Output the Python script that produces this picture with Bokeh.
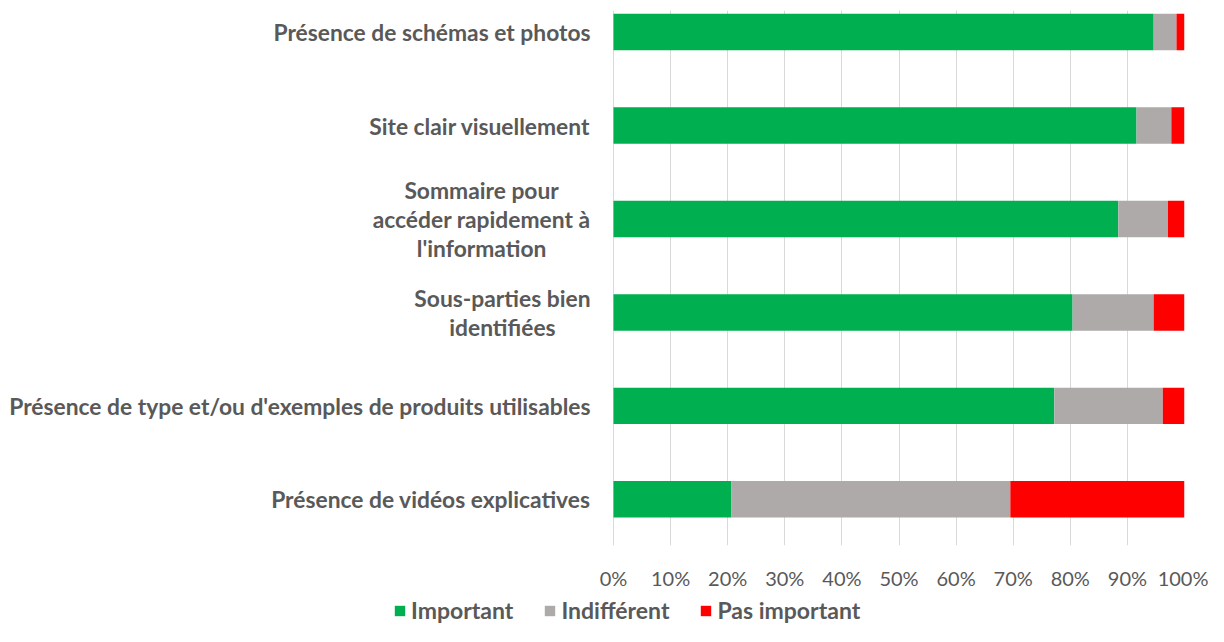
from bokeh.plotting import figure
from bokeh.layouts import column
from bokeh.models import ColumnDataSource, Range1d, FixedTicker, PrintfTickFormatter, Legend, LegendItem
from bokeh.core.properties import value
from bokeh.embed import file_html
from bokeh.resources import INLINE

categories = [
    "Présence de schémas et photos",
    "Site clair visuellement",
    "Sommaire pour\naccéder rapidement à\nl'information",
    "Sous-parties bien\nidentifiées",
    "Présence de type et/ou d'exemples de produits utilisables",
    "Présence de vidéos explicatives",
]
important = [94.6, 91.6, 88.4, 80.4, 77.2, 20.6]
indifferent = [4.0, 6.1, 8.7, 14.2, 19.0, 48.9]
pas_important = [1.4, 2.3, 2.9, 5.4, 3.8, 30.5]
series = ["Important", "Indifférent", "Pas important"]
colors = ["#00B050", "#AEAAAA", "#FF0000"]
x_ticks = [0, 10, 20, 30, 40, 50, 60, 70, 80, 90, 100]

n = len(categories)
ypos = [n - 1 - i for i in range(n)]
source = ColumnDataSource(dict(y=ypos, cat=categories, zero=[0] * n, Important=important,
                               **{"Indifférent": indifferent, "Pas important": pas_important}))

FONT = "Lato"
GREY = "#595959"
W = 1208
AXIS_PX = 613      # pixel where 0% sits
RIGHT_PAD = 24
px_per_unit = (W - RIGHT_PAD - AXIS_PX) / 100.0
x_start = -AXIS_PX / px_per_unit

p = figure(width=W, height=592, x_range=Range1d(x_start, 100), y_range=Range1d(-0.494, 5.231),
           output_backend="svg", toolbar_location=None, y_axis_location=None,
           min_border_left=0, min_border_right=RIGHT_PAD, min_border_top=10, min_border_bottom=47)
p.outline_line_color = None

p.hbar_stack(series, y="y", height=0.39, color=colors, source=source, line_color=None)

# category labels
p.text(x="zero", y="y", text="cat", source=source, x_offset=-23,
       anchor="center_right", text_align="center", text_baseline="middle",
       text_font=value(FONT), text_font_style="bold", text_font_size="22.8px",
       text_color=GREY, text_line_height=1.03)

p.xaxis.ticker = FixedTicker(ticks=x_ticks)
p.xaxis.formatter = PrintfTickFormatter(format="%d%%")
p.xaxis.axis_line_color = None
p.xaxis.major_tick_line_color = None
p.xaxis.minor_tick_line_color = None
p.xaxis.major_label_text_color = GREY
p.xaxis.major_label_text_font = FONT
p.xaxis.major_label_text_font_size = "20px"
p.xaxis.major_label_standoff = 14

p.ygrid.grid_line_color = None
p.xgrid.grid_line_color = "#D9D9D9"
p.xgrid.ticker = FixedTicker(ticks=x_ticks)

# legend strip (renderers hidden; only their legend swatches are drawn)
lg = figure(width=W, height=34, x_range=Range1d(0, 100), y_range=Range1d(-0.5, 0.5),
            output_backend="svg", toolbar_location=None, x_axis_location=None, y_axis_location=None,
            min_border_left=0, min_border_right=RIGHT_PAD, min_border_top=0, min_border_bottom=0)
lg.grid.grid_line_color = None
lg.outline_line_color = None
lg_renderers = lg.hbar_stack(series, y="y", height=0.39, color=colors, source=source, line_color=None)
for r in lg_renderers:
    r.visible = False
items = [LegendItem(label=s, renderers=[r]) for s, r in zip(series, lg_renderers)]
legend = Legend(items=items, orientation="horizontal", location=(393, 2))
legend.glyph_width = 13
legend.glyph_height = 13
legend.label_height = 22
legend.label_text_font = FONT
legend.label_text_font_style = "bold"
legend.label_text_font_size = "23px"
legend.label_text_color = GREY
legend.label_standoff = 5
legend.spacing = 30
legend.padding = 0
legend.margin = 0
legend.border_line_color = None
legend.background_fill_alpha = 0
legend.inactive_fill_alpha = 0
legend.click_policy = "none"
lg.add_layout(legend, "center")

layout = column(p, lg, spacing=0)
open("out.html", "w").write(file_html(layout, INLINE))
